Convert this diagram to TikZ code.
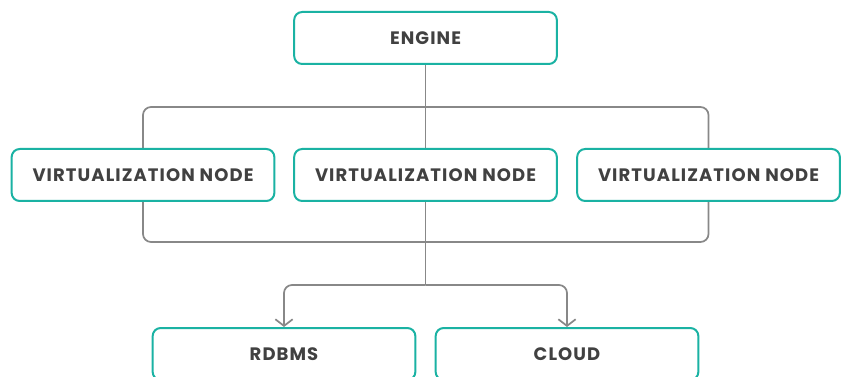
\documentclass[tikz,border=0pt]{standalone}
\usepackage{fontspec}
\setmainfont{Poppins}[LetterSpace=6]
\usetikzlibrary{arrows.meta,positioning,backgrounds}
\definecolor{boxteal}{RGB}{26,178,163}
\definecolor{linegray}{RGB}{136,136,136}
\definecolor{textgray}{RGB}{65,65,65}
\tikzset{
  unitbox/.style={draw=boxteal, line width=1.5pt, rounded corners=6pt, fill=white,
    minimum width=197pt, minimum height=39pt, inner sep=0pt,
    font=\fontsize{13.5}{15}\selectfont\bfseries, text=textgray},
  link/.style={draw=linegray, line width=1.3pt, rounded corners=6pt},
  tip/.style={-{Straight Barb[length=5pt,width=13pt,line width=1.3pt]}}
}
\begin{document}
\begin{tikzpicture}[x=0.75pt,y=-0.75pt]
  \useasboundingbox (0,0) rectangle (841,377);
  \clip (0,0) rectangle (841,377);
  % Obere Ebene
  \node[unitbox] (engine) at (425.5,38) {ENGINE};
  % Mittlere Ebene
  \node[unitbox] (virtM) at (425.5,175) {VIRTUALIZATION NODE};
  \node[unitbox] (virtL) at (143,175) {VIRTUALIZATION NODE};
  \node[unitbox] (virtR) at (708.5,175) {VIRTUALIZATION NODE};
  % Untere Ebene
  \node[unitbox] (rdbms) at (284,354) {RDBMS};
  \node[unitbox] (cloud) at (567,354) {CLOUD};
  % Hilfspunkte
  \coordinate (top) at (425.5,107);
  \coordinate (bot) at (425.5,242);
  \coordinate (split) at (425.5,285);
  % Verbindungen
  \begin{scope}[on background layer]
    \draw[link] (virtL.center |- top) rectangle (virtR.center |- bot);
    \draw[link] (engine.south) -- (split);
    \draw[link,tip] (split) -| (rdbms.north);
    \draw[link,tip] (split) -| (cloud.north);
  \end{scope}
\end{tikzpicture}
\end{document}
